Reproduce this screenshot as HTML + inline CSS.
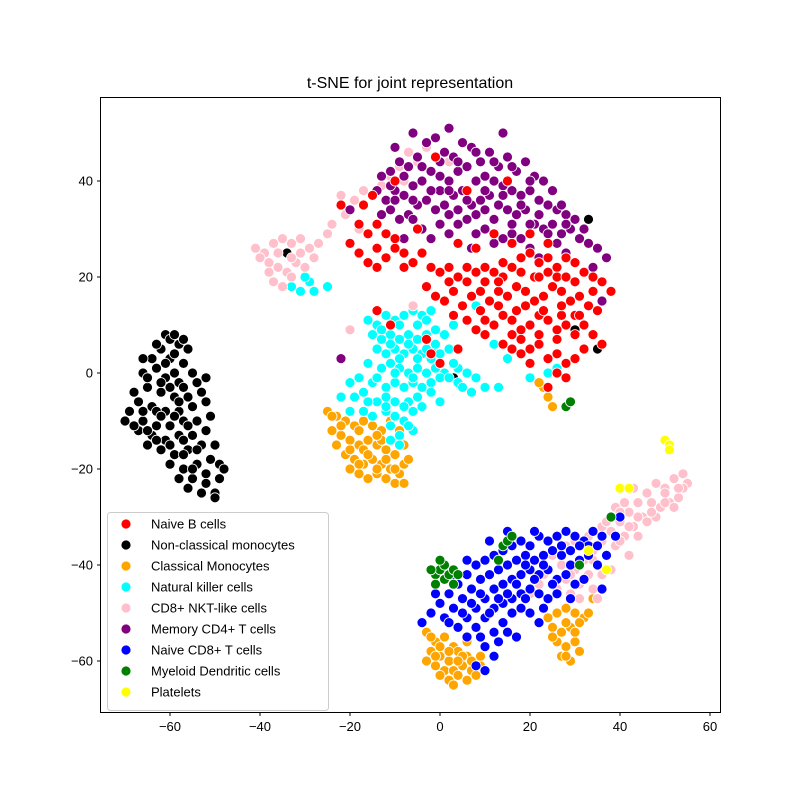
<!DOCTYPE html>
<html><head><meta charset="utf-8"><style>
html,body{margin:0;padding:0;background:#fff;}
svg text{font-family:"Liberation Sans","DejaVu Sans",sans-serif;}
</style></head><body>
<svg id="chart" width="800" height="800" viewBox="0 0 800 800" xmlns="http://www.w3.org/2000/svg">
<rect width="800" height="800" fill="#fff"/>
<text x="410" y="88" text-anchor="middle" font-size="16">t-SNE for joint representation</text>
<g id="points"></g>
<rect x="100.5" y="97.5" width="620" height="615" fill="none" stroke="#000" stroke-width="1"/>
<g id="axes"></g>
<g id="legend"></g>
</svg>
<script>
const categories=["Naive B cells","Non-classical monocytes","Classical Monocytes","Natural killer cells","CD8+ NKT-like cells","Memory CD4+ T cells","Naive CD8+ T cells","Myeloid Dendritic cells","Platelets"];
const colors=["red","black","orange","cyan","pink","purple","blue","green","yellow"];
const xTicks=[-60,-40,-20,0,20,40,60];
const yTicks=[-60,-40,-20,0,20,40];
const blackPts=[[-61,8],[-60,7],[-58,6],[-56,5],[-59,8],[-57,7],[-62,5],[-64,3],[-60,3],[-57,2],[-55,0],[-63,1],[-66,0],[-61,-1],[-58,-2],[-54,-2],[-52,-1],[-65,-3],[-62,-4],[-59,-5],[-56,-5],[-53,-4],[-67,-6],[-64,-7],[-61,-8],[-58,-8],[-55,-7],[-52,-6],[-69,-8],[-66,-10],[-63,-11],[-60,-11],[-57,-10],[-54,-10],[-51,-9],[-70,-10],[-67,-12],[-64,-13],[-61,-14],[-58,-13],[-55,-13],[-52,-12],[-65,-15],[-62,-16],[-59,-17],[-56,-16],[-53,-15],[-50,-15],[-60,-19],[-57,-20],[-54,-19],[-51,-18],[-49,-19],[-58,-22],[-55,-22],[-52,-21],[-49,-22],[-56,-24],[-53,-25],[-50,-25],[-50,-26],[-68,-4],[-66,3],[-59,0],[-62,-2],[-57,-14],[-63,-8],[-65,-12],[-41,26],[-34,25],[30,9],[29,-6],[3,-1],[35,5],[33,32],[-2,5],[-63,6],[-59,4],[-61,2],[-65,-1],[-60,-3],[-57,-3],[-66,-8],[-62,-9],[-59,-9],[-56,-11],[-68,-11],[-63,-14],[-60,-15],[-57,-17],[-54,-16],[-55,-20],[-52,-23],[-48,-20],[-58,-6]];
const orangePts=[[-25,-8],[-23,-9],[-21,-10],[-19,-11],[-17,-10],[-15,-11],[-13,-12],[-11,-10],[-9,-12],[-24,-12],[-22,-13],[-20,-14],[-18,-15],[-16,-14],[-14,-15],[-12,-16],[-10,-17],[-8,-15],[-21,-17],[-19,-18],[-17,-19],[-15,-18],[-13,-19],[-11,-20],[-9,-21],[-8,-19],[-18,-21],[-16,-22],[-14,-21],[-12,-22],[-10,-23],[-8,-23],[-20,-20],[-23,-15],[-17,-16],[-13,-14],[-7,-18],[-3,-54],[-1,-56],[1,-55],[3,-57],[-2,-58],[0,-59],[2,-60],[4,-58],[6,-59],[8,-60],[-1,-61],[1,-62],[3,-62],[5,-61],[7,-62],[9,-61],[2,-64],[4,-63],[6,-64],[8,-63],[0,-57],[-3,-60],[3,-65],[6,-56],[24,-51],[26,-50],[28,-49],[30,-50],[32,-51],[25,-53],[27,-54],[29,-53],[31,-52],[26,-56],[28,-57],[30,-56],[27,-59],[29,-60],[31,-58],[33,-50],[34,-47],[23,-3],[24,-5],[25,-7],[22,-2],[-22,-11],[-18,-12],[-14,-13],[-20,-16],[-16,-17],[-12,-18],[-18,-19],[-14,-20],[-10,-20],[-24,-9],[-1,-59],[2,-58],[5,-59],[7,-60],[0,-63],[4,-60],[9,-59],[-2,-55],[25,-55],[28,-52],[30,-54],[28,-59]];
const cyanPts=[[-20,9],[-16,11],[-14,10],[-12,12],[-10,11],[-8,12],[-6,13],[-4,12],[-2,13],[-15,8],[-13,7],[-11,8],[-9,7],[-7,8],[-5,7],[-3,8],[-1,9],[1,8],[3,10],[-14,5],[-12,4],[-10,5],[-8,4],[-6,5],[-4,4],[-2,3],[0,4],[2,5],[-16,2],[-13,1],[-11,2],[-9,1],[-7,0],[-5,1],[-3,0],[-1,1],[1,0],[4,1],[-20,-2],[-18,-1],[-15,-2],[-12,-3],[-10,-2],[-8,-3],[-6,-2],[-4,-3],[-2,-2],[0,-1],[-22,-5],[-19,-5],[-17,-4],[-14,-6],[-12,-5],[-10,-6],[-7,-6],[-5,-5],[-20,-8],[-17,-8],[-15,-9],[-12,-8],[-10,-9],[-8,-10],[-6,-8],[-9,-13],[-6,-12],[-11,-14],[2,-1],[4,-2],[6,0],[8,-1],[10,-3],[13,-3],[7,-4],[0,-6],[12,6],[-33,18],[-31,17],[-29,19],[-28,17],[-30,20],[-25,18],[8,14],[15,3],[20,-1],[24,0],[26,1],[5,-3],[-9,-15],[-13,9],[-9,10],[-5,10],[-11,6],[-7,6],[-3,5],[-9,3],[-5,3],[-1,6],[-14,-1],[-10,0],[-6,-1],[-2,-4],[-16,-6],[-12,-7],[-8,-7],[-4,-7],[-11,-11],[-7,-11],[3,2],[-3,11]];
const pinkPts=[[-41,26],[-39,25],[-37,27],[-35,28],[-33,27],[-31,28],[-29,26],[-27,27],[-25,29],[-38,23],[-36,22],[-34,21],[-32,23],[-30,22],[-37,19],[-35,18],[-33,20],[-40,24],[-28,24],[-24,31],[-21,33],[-19,36],[-22,37],[-17,38],[-15,37],[-13,39],[-11,41],[-9,43],[-7,46],[-5,44],[-3,47],[-8,40],[-18,30],[-20,9],[-6,14],[2,44],[26,-45],[28,-43],[30,-41],[32,-39],[34,-37],[36,-35],[38,-33],[40,-31],[42,-29],[44,-27],[46,-25],[48,-23],[50,-24],[52,-22],[54,-21],[55,-23],[53,-26],[51,-27],[49,-28],[47,-27],[45,-30],[43,-32],[41,-34],[39,-36],[37,-38],[35,-40],[33,-42],[31,-44],[29,-46],[27,-40],[25,-38],[30,-35],[33,-34],[36,-32],[40,-35],[44,-34],[46,-31],[42,-38],[38,-41],[34,-45],[31,-47],[48,-30],[50,-25],[52,-28],[54,-24],[43,-24],[41,-27],[28,-36],[22,-44],[20,-46],[23,-42],[35,-47],[39,-28],[44,-30],[47,-29],[50,-27],[53,-24],[40,-29],[37,-31],[34,-39],[32,-43],[29,-42],[36,-42],[42,-32],[-36,25],[-33,24],[-31,25],[-38,21]];
const purplePts=[[-13,41],[-11,42],[-9,44],[-7,43],[-5,45],[-3,48],[-1,49],[1,46],[3,45],[5,48],[7,47],[9,44],[11,46],[13,43],[15,45],[17,42],[19,44],[21,41],[23,40],[25,38],[-14,38],[-12,36],[-10,38],[-8,37],[-6,39],[-4,40],[-2,42],[0,41],[2,40],[4,42],[6,43],[8,40],[10,41],[12,40],[14,39],[16,38],[18,37],[20,38],[22,36],[24,35],[26,34],[28,33],[30,32],[-13,33],[-11,34],[-9,32],[-7,33],[-5,35],[-3,36],[-1,34],[1,35],[3,37],[5,38],[7,35],[9,36],[11,37],[13,35],[15,34],[17,33],[19,34],[21,31],[23,30],[25,31],[27,29],[29,30],[31,28],[33,27],[35,26],[37,24],[34,22],[32,30],[-4,30],[-2,28],[0,31],[2,29],[4,31],[6,32],[8,29],[10,30],[12,27],[14,28],[16,29],[18,28],[20,26],[22,24],[26,27],[28,25],[30,23],[-22,3],[-8,28],[-6,36],[0,38],[4,34],[7,26],[10,34],[-10,47],[-6,50],[2,51],[14,50],[-20,34],[36,15],[-8,41],[-4,43],[0,44],[4,44],[8,46],[12,44],[16,43],[-10,36],[-2,38],[2,38],[6,36],[10,38],[14,37],[18,35],[22,33],[-6,32],[2,33],[8,33],[12,32],[16,31],[20,31],[24,29],[28,31],[-11,39],[20,40],[27,35]];
const redPts=[[-20,27],[-18,25],[-16,23],[-14,22],[-12,24],[-10,26],[-8,25],[-6,23],[-4,25],[-2,22],[0,21],[2,19],[4,20],[6,22],[8,21],[10,19],[12,21],[14,23],[16,22],[18,24],[20,25],[22,23],[24,24],[26,22],[28,24],[30,23],[32,21],[34,20],[36,19],[-16,29],[-14,31],[-12,29],[-18,31],[-10,28],[-5,30],[4,27],[8,26],[12,29],[16,27],[20,29],[24,27],[-3,18],[-1,16],[1,15],[3,17],[5,14],[7,16],[9,13],[11,15],[13,17],[15,16],[17,18],[19,17],[21,15],[23,16],[25,18],[27,17],[29,15],[31,16],[33,14],[35,13],[6,11],[8,9],[10,8],[12,10],[14,12],[16,11],[18,9],[20,10],[22,12],[24,11],[26,9],[28,10],[30,12],[32,10],[34,8],[36,6],[14,6],[16,5],[18,4],[20,5],[22,6],[24,3],[26,4],[28,2],[30,3],[26,0],[28,-1],[24,-3],[20,2],[13,14],[17,13],[21,20],[27,12],[4,5],[-2,4],[-3,7],[0,2],[38,17],[-22,35],[-15,37],[-10,40],[-1,45],[6,38],[15,40],[-14,13],[-11,10],[-17,35],[3,12],[2,22],[6,19],[10,22],[14,20],[18,21],[22,20],[26,20],[30,19],[34,17],[9,17],[13,19],[19,14],[23,13],[27,14],[31,12],[10,11],[18,7],[22,8],[26,7],[30,8],[32,5],[16,8],[-8,22],[-14,26],[24,21],[28,20]];
const bluePts=[[0,-48],[2,-46],[4,-44],[6,-42],[8,-40],[10,-39],[12,-38],[14,-37],[16,-36],[18,-35],[20,-36],[22,-34],[24,-35],[26,-34],[28,-33],[30,-34],[32,-35],[34,-33],[36,-34],[-2,-50],[1,-51],[3,-49],[5,-47],[7,-45],[9,-43],[11,-42],[13,-41],[15,-40],[17,-39],[19,-38],[21,-39],[23,-38],[25,-37],[27,-38],[29,-37],[31,-39],[33,-38],[35,-40],[4,-53],[6,-51],[8,-49],[10,-47],[12,-45],[14,-44],[16,-43],[18,-42],[20,-41],[22,-42],[24,-41],[26,-43],[28,-42],[30,-44],[32,-43],[6,-55],[8,-53],[10,-51],[12,-49],[14,-48],[16,-47],[18,-46],[20,-45],[22,-46],[24,-47],[26,-46],[10,-57],[12,-54],[14,-52],[16,-50],[18,-49],[20,-50],[22,-52],[8,-61],[10,-62],[12,-59],[-4,-52],[-1,-46],[11,-35],[15,-33],[21,-33],[29,-47],[37,-38],[39,-34],[40,-30],[36,-45],[6,-39],[3,-42],[17,-55],[5,-50],[9,-46],[13,-47],[17,-44],[21,-43],[25,-44],[29,-40],[33,-36],[19,-40],[23,-40],[27,-36],[11,-50],[15,-46],[19,-47],[23,-49],[7,-48],[13,-56],[15,-54],[9,-55],[2,-52],[31,-36],[35,-36]];
const greenPts=[[-1,-42],[0,-41],[1,-43],[2,-42],[3,-41],[4,-42],[-1,-44],[1,-40],[3,-44],[-2,-41],[0,-39],[14,-36],[15,-35],[16,-34],[13,-39],[28,-7],[29,-6],[38,-30],[31,-40]];
const yellowPts=[[50,-14],[51,-15],[51,-16],[40,-24],[42,-24],[37,-41],[33,-37]];

const NS="http://www.w3.org/2000/svg";
function xs(v){return 440+v*4.5;}
function ys(v){return 373-v*4.8;}
const series=[
 {pts:blackPts,color:"black",key:"non-classical-monocytes"},
 {pts:orangePts,color:"orange",key:"classical-monocytes"},
 {pts:cyanPts,color:"cyan",key:"natural-killer-cells"},
 {pts:pinkPts,color:"pink",key:"cd8-nkt-like-cells"},
 {pts:purplePts,color:"purple",key:"memory-cd4-t-cells"},
 {pts:redPts,color:"red",key:"naive-b-cells"},
 {pts:bluePts,color:"blue",key:"naive-cd8-t-cells"},
 {pts:greenPts,color:"green",key:"myeloid-dendritic-cells"},
 {pts:yellowPts,color:"yellow",key:"platelets"}
];
const g=document.getElementById("points");
series.forEach(s=>{
 s.pts.forEach(p=>{
  const c=document.createElementNS(NS,"circle");
  c.setAttribute("cx",xs(p[0]));c.setAttribute("cy",ys(p[1]));c.setAttribute("r",5);
  c.setAttribute("fill",s.color);c.setAttribute("stroke","#fff");c.setAttribute("stroke-width",0.8);
  
  
  g.appendChild(c);
 });
});
const ax=document.getElementById("axes");
xTicks.forEach(t=>{
 const x=xs(t);
 const l=document.createElementNS(NS,"line");
 l.setAttribute("x1",x);l.setAttribute("x2",x);l.setAttribute("y1",712.5);l.setAttribute("y2",716);l.setAttribute("stroke","#000");
 
 
 ax.appendChild(l);
 const tx=document.createElementNS(NS,"text");
 tx.setAttribute("x",x);tx.setAttribute("y",731);tx.setAttribute("text-anchor","middle");tx.setAttribute("font-size","13");
 tx.textContent=(t<0?"\u2212"+(-t):t);
 
 
 ax.appendChild(tx);
});
yTicks.forEach(t=>{
 const y=ys(t);
 const l=document.createElementNS(NS,"line");
 l.setAttribute("x1",97);l.setAttribute("x2",100.5);l.setAttribute("y1",y);l.setAttribute("y2",y);l.setAttribute("stroke","#000");
 
 
 ax.appendChild(l);
 const tx=document.createElementNS(NS,"text");
 tx.setAttribute("x",93);tx.setAttribute("y",y+4.5);tx.setAttribute("text-anchor","end");tx.setAttribute("font-size","13");
 tx.textContent=(t<0?"\u2212"+(-t):t);
 
 
 ax.appendChild(tx);
});
const lg=document.getElementById("legend");
const box=document.createElementNS(NS,"rect");
box.setAttribute("x",107.5);box.setAttribute("y",512.5);box.setAttribute("width",221);box.setAttribute("height",198);box.setAttribute("rx",3);
box.setAttribute("fill","rgba(255,255,255,0.8)");box.setAttribute("stroke","#ccc");


lg.appendChild(box);
categories.forEach((c,i)=>{
 const y=524+i*21;
 const m=document.createElementNS(NS,"circle");
 m.setAttribute("cx",126);m.setAttribute("cy",y);m.setAttribute("r",5);m.setAttribute("fill",colors[i]);m.setAttribute("stroke","#fff");m.setAttribute("stroke-width",0.8);
 
 
 lg.appendChild(m);
 const t=document.createElementNS(NS,"text");
 t.setAttribute("x",151);t.setAttribute("y",y+4.5);t.setAttribute("font-size","13");
 t.textContent=c;
 
 
 lg.appendChild(t);
});
</script>
</body></html>
